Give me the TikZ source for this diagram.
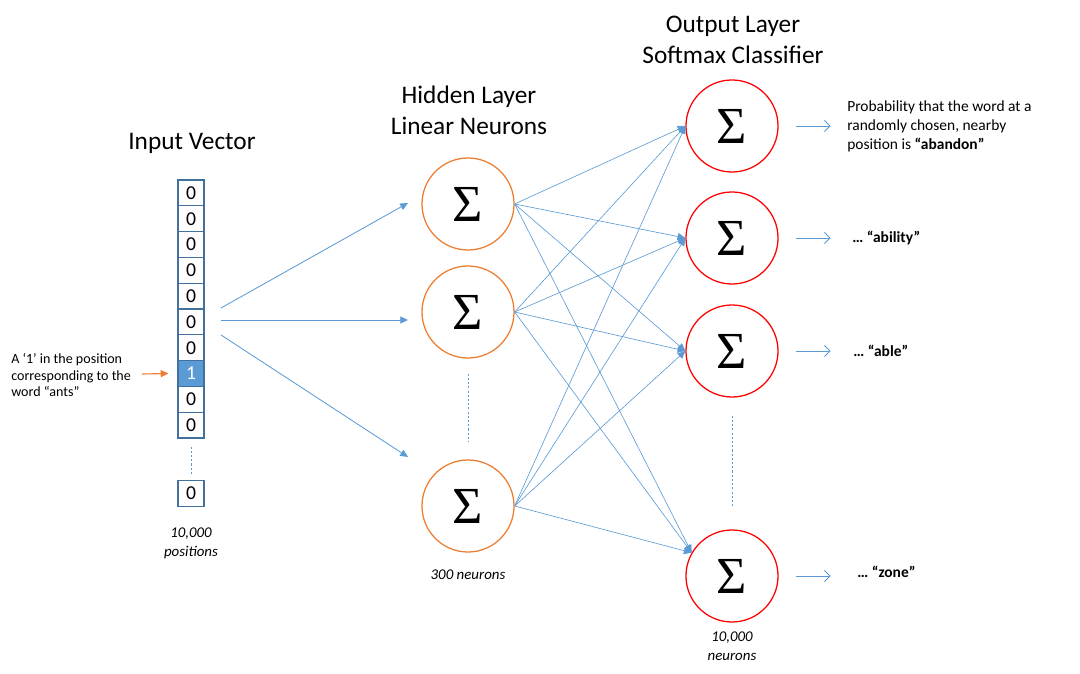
\documentclass[tikz,border=0pt]{standalone}
\usepackage{fontspec}
\setmainfont{Carlito}
\newfontfamily\sigmafont{Liberation Serif}
\usetikzlibrary{calc}
\usetikzlibrary{arrows.meta}

\definecolor{lineblue}{RGB}{91,155,213}
\definecolor{boxblue}{RGB}{65,113,156}
\definecolor{neuronorange}{RGB}{237,125,49}
\definecolor{neuronred}{RGB}{255,0,0}

\tikzset{
    cellbox/.style={draw=boxblue, line width=0.8pt, minimum width=0.65cm, minimum height=0.645cm, inner sep=0pt, font=\fontsize{14}{14}\selectfont},
    onecell/.style={cellbox, fill=lineblue, text=white},
    hidneuron/.style={circle, draw=neuronorange, line width=0.9pt, minimum size=2.3cm, inner sep=0pt, font=\sigmafont\fontsize{37}{40}\selectfont},
    outneuron/.style={hidneuron, draw=neuronred},
    layertitle/.style={font=\fontsize{18}{22}\selectfont, align=center},
    wordnote/.style={font=\fontsize{10}{12}\selectfont, align=left, inner sep=0pt},
    probnote/.style={wordnote, font=\fontsize{11}{13.5}\selectfont},
    countnote/.style={font=\fontsize{10.6}{13.5}\selectfont\itshape, align=center},
    wire/.style={draw=lineblue, line width=0.6pt, -{Triangle[length=5.5pt,width=5pt]}},
    gapline/.style={draw=lineblue, line width=0.6pt, dash pattern=on 1.5pt off 1.5pt},
    probarrow/.style={draw=lineblue, line width=0.6pt, -{Straight Barb[length=4pt,width=8pt]}},
}

\begin{document}
\begin{tikzpicture}[x=0.025cm, y=-0.025cm]
    \useasboundingbox (0,0) rectangle (1080,674);

    % layer titles
    \node[layertitle] (tin) at (192,143) {Input Vector};
    \node[layertitle] (thid) at (469,110) {Hidden Layer\\Linear Neurons};
    \node[layertitle] (tout) at (733,40) {Output Layer\\Softmax Classifier};

    % input vector
    \foreach \i in {1,...,10}{
        \ifnum\i=8
            \node[onecell] (in\i) at (191,167.1+25.8*\i) {1};
        \else
            \node[cellbox] (in\i) at (191,167.1+25.8*\i) {0};
        \fi
    }
    \node[cellbox] (inlast) at (191,493.5) {0};
    \draw[gapline] ($(in10.south)+(0,8)$) -- ($(inlast.north)+(0,-4)$);
    \node[countnote] (npos) at (191,543) {10,000\\positions};

    \node[wordnote, anchor=west] (antsnote) at (11,375) {A ‘1’ in the position\\corresponding to the\\word “ants”};
    \coordinate (antstail) at (142,374);
    \draw[draw=neuronorange, line width=0.8pt, -{Triangle[length=5.5pt,width=5pt]}] (antstail) -- ($(in8.west)+(-9,0)$);

    \foreach \i/\s/\t in {1/308/203, 2/320/320, 3/335/457}{
        \coordinate (fan\i) at (221,\s);
        \coordinate (hin\i) at (408,\t);
        \draw[wire] (fan\i) -- (hin\i);
    }

    % hidden layer
    \node[hidneuron] (h1) at (468,204) {Σ};
    \node[hidneuron] (h2) at (468,312) {Σ};
    \node[hidneuron] (h3) at (468,506) {Σ};
    \draw[gapline] ($(h2.south)+(0,15)$) -- ($(h3.north)+(0,-17)$);
    \node[countnote] (nhid) at (468,575) {300 neurons};

    % output layer
    \node[outneuron] (o1) at (732,126) {Σ};
    \node[outneuron] (o2) at (732,238) {Σ};
    \node[outneuron] (o3) at (732,351) {Σ};
    \node[outneuron] (o4) at (732,576) {Σ};
    \draw[gapline] ($(o3.south)+(0,18)$) -- ($(o4.north)+(0,-22)$);
    \node[countnote] (nout) at (732,646) {10,000\\neurons};

    \foreach \h in {1,2,3}{
        \foreach \o/\a in {1/180,2/180,3/180,4/150}{
            \draw[wire, line width=0.45pt] (h\h.east) -- (o\o.\a);
        }
    }

    \foreach \o in {1,...,4}{
        \draw[probarrow] ($(o\o.east)+(17,0)$) -- ($(o\o.east)+(52,0)$);
    }
    \node[probnote, anchor=west] (p1) at (847,126) {Probability that the word at a\\randomly chosen, nearby\\position is \textbf{“abandon”}};
    \node[probnote, anchor=west] (p2) at (852,238) {\textbf{… “ability”}};
    \node[probnote, anchor=west] (p3) at (853,351) {\textbf{… “able”}};
    \node[probnote, anchor=west] (p4) at (857,572) {\textbf{… “zone”}};
\end{tikzpicture}
\end{document}
